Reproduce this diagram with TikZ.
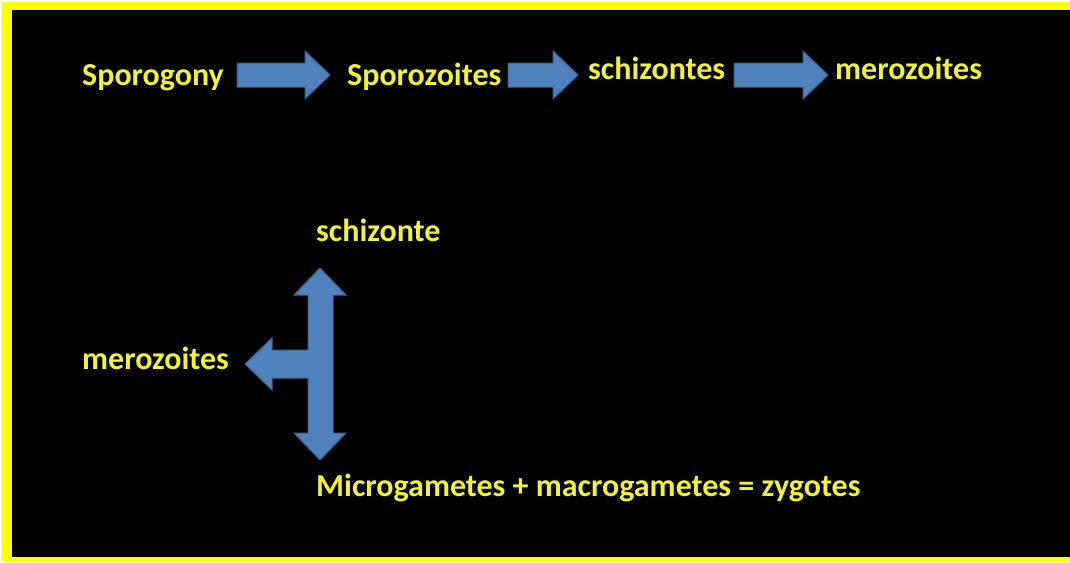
\documentclass[tikz,border=0pt]{standalone}
\usepackage{fontspec}
\setmainfont{Carlito}
\definecolor{frameyellow}{HTML}{FFFF00}
\definecolor{textyellow}{HTML}{F2F23A}
\definecolor{arrowfill}{HTML}{4F81BD}
\definecolor{arrowedge}{HTML}{3A6396}
\tikzset{
  lbl/.style={text=textyellow, font=\fontsize{32}{36}\selectfont\bfseries, inner sep=0pt, anchor=base west},
  blockarrow/.style={fill=arrowfill, draw=arrowedge, line width=1pt, line join=miter}
}
\begin{document}
\begin{tikzpicture}[x=1pt, y=-1pt]
  % page, frame bands (top, left, bottom) and black panel
  \useasboundingbox (0,0) rectangle (1070,562);
  \fill[white] (0,0) rectangle (1070,562);
  \fill[black] (12,10) rectangle (1070,557);
  \fill[frameyellow] (2,2) rectangle (1070,10);
  \fill[frameyellow] (2,2) rectangle (12,562);
  \fill[frameyellow] (2,557) rectangle (1070,562);

  % top row of stages
  \node[lbl] (sporogony) at (82,85) {Sporogony};
  \node[lbl] (sporozoites) at (347,85) {Sporozoites};
  \node[lbl] (schizontes) at (588,79) {schizontes};
  \node[lbl] (merozoitesA) at (835,79) {merozoites};

  % block arrows of the top row
  \draw[blockarrow] (237,63) -- (305,63) -- (305,51) -- (330,75) -- (305,99) -- (305,87) -- (237,87) -- cycle;
  \draw[blockarrow] (508,63) -- (553,63) -- (553,51) -- (578,75) -- (553,99) -- (553,87) -- (508,87) -- cycle;
  \draw[blockarrow] (734,63) -- (803,63) -- (803,51) -- (828,75) -- (803,99) -- (803,87) -- (734,87) -- cycle;

  % lower branching stages
  \node[lbl] (schizonte) at (316,241) {schizonte};
  \node[lbl] (merozoitesB) at (82,369) {merozoites};
  \node[lbl] (gametes) at (316,496) {Microgametes + macrogametes = zygotes};

  % three-way block arrow
  \draw[blockarrow]
    (320,268) -- (346,295) -- (333,295) -- (333,433) -- (346,433) -- (320,460)
    -- (294,433) -- (308,433) -- (308,378) -- (272,378) -- (272,390) -- (245,364)
    -- (272,338) -- (272,350) -- (308,350) -- (308,295) -- (294,295) -- cycle;
\end{tikzpicture}
\end{document}
